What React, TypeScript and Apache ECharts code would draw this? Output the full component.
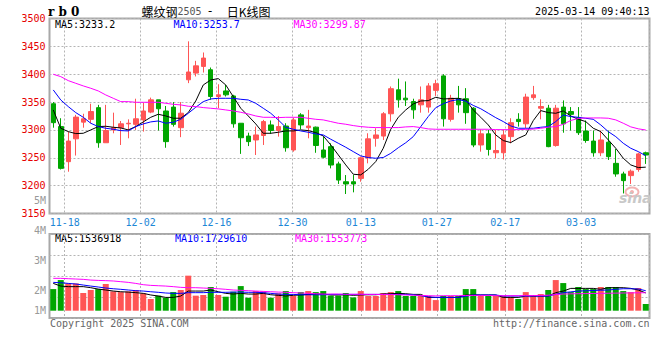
import React, { useEffect, useRef } from "react";
import * as echarts from "echarts";

// ---------- data ----------
const dates = [
  "11-14","11-15","11-18","11-19","11-20","11-21","11-22","11-25","11-26","11-27","11-28","11-29",
  "12-02","12-03","12-04","12-05","12-06","12-09","12-10","12-11","12-12","12-13","12-16","12-17","12-18","12-19","12-20","12-23","12-24","12-25","12-26","12-27","12-30","12-31",
  "01-02","01-03","01-06","01-07","01-08","01-09","01-10","01-13","01-14","01-15","01-16","01-17","01-20","01-21","01-22","01-23","01-24","01-27",
  "02-05","02-06","02-07","02-10","02-11","02-12","02-13","02-14","02-17","02-18","02-19","02-20","02-21","02-24","02-25","02-26","02-27","02-28",
  "03-03","03-04","03-05","03-06","03-07","03-10","03-11","03-12","03-13","03-14",
];
const tickDates = ["11-18", "12-02", "12-16", "12-30", "01-13", "01-27", "02-17", "03-03"];

const opens = [3347,3306,3243,3284,3314,3319,3340,3277,3300,3304,3311,3310,3318,3332,3354,3334,3341,3304,3390,3402,3414,3408,3360,3370,3361,3312,3289,3282,3290,3309,3299,3307,3264,3327,3304,3305,3264,3270,3239,3207,3207,3213,3250,3285,3289,3329,3372,3357,3351,3345,3341,3371,3397,3319,3356,3356,3339,3273,3293,3259,3259,3288,3319,3311,3358,3339,3339,3272,3341,3333,3322,3298,3280,3259,3278,3240,3221,3218,3229,3259];
const closes = [3313,3231,3280,3323,3320,3333,3277,3299,3304,3311,3312,3320,3334,3354,3338,3279,3310,3330,3404,3415,3429,3360,3363,3363,3311,3286,3279,3291,3315,3299,3306,3268,3318,3309,3307,3272,3251,3237,3210,3203,3203,3250,3284,3291,3329,3374,3354,3354,3336,3354,3379,3383,3320,3357,3345,3331,3273,3293,3265,3263,3291,3313,3315,3359,3363,3342,3270,3339,3311,3328,3295,3281,3259,3282,3252,3221,3209,3226,3257,3255];
const lows = [3304,3229,3225,3254,3304,3312,3268,3277,3294,3273,3285,3300,3297,3330,3299,3268,3306,3287,3384,3396,3403,3354,3339,3360,3304,3257,3271,3255,3273,3293,3288,3261,3261,3301,3285,3259,3249,3231,3203,3185,3188,3207,3240,3270,3282,3315,3340,3343,3320,3331,3331,3361,3306,3315,3331,3311,3269,3261,3254,3249,3247,3276,3306,3303,3354,3319,3269,3270,3295,3299,3291,3277,3252,3253,3246,3216,3186,3203,3225,3239];
const highs = [3350,3321,3297,3327,3329,3347,3345,3345,3331,3316,3319,3356,3349,3358,3354,3343,3350,3350,3459,3424,3439,3412,3382,3381,3363,3312,3295,3306,3318,3317,3325,3312,3322,3330,3336,3306,3288,3276,3243,3219,3219,3252,3294,3303,3332,3378,3392,3387,3356,3378,3384,3390,3400,3363,3379,3375,3341,3301,3300,3300,3301,3321,3330,3365,3379,3355,3345,3345,3353,3341,3341,3317,3299,3299,3299,3266,3225,3229,3259,3261];

const ma5 = [3335.9,3303,3297,3293.4,3294,3300,3306,3306.6,3304.8,3303.6,3300,3306,3314.4,3322.7,3328.1,3325.1,3321,3321,3331.1,3352,
  3380.7,3389.7,3392.1,3380.7,3359.8,3338.9,3325.1,3310.8,3294,3294,3295.8,3298.2,3298.2,3300,3298.8,3295.2,3289.2,3273.1,3255.2,3237.2,
  3220.5,3219.3,3229.4,3243.2,3267.1,3301.2,3322.7,3335.9,3346.6,3352,3352.6,3358.6,3355.6,3356.2,3356.8,3353.8,3335.9,3322.7,3309,3291,
  3280.9,3277.3,3285,3291,3316.7,3334.7,3331.1,3329.9,3334.1,3325.1,3319.1,3315,3303,3297,3282.1,3267.1,3249.2,3237.2,3232.4,3233.2];
const ma10 = [3371.8,3353.8,3341.9,3331.1,3322.7,3312,3306,3303,3301.2,3298.8,3298.2,3306,3310.8,3314.4,3316.1,3312,3313.8,3319.1,3329.9,3340.7,
  3350.8,3355.6,3356.8,3356.8,3356.8,3355,3353.8,3347.8,3338.9,3329.9,3318,3304.8,3301.2,3298.2,3295.8,3292.8,3291,3283.3,3276.1,3268.9,
  3261.1,3253.4,3250.4,3249.2,3250.5,3258,3268,3277,3288,3306,3324,3340,3347,3352,3354.5,3351.5,3344,3338,3330,3322,
  3315,3307.2,3303,3303,3303,3304.8,3306,3315,3326.9,3323.9,3322.7,3320.9,3319.1,3309,3297,3288,3276.1,3267.1,3261.1,3253.7];
const ma30 = [3399.9,3395.7,3388.5,3383.7,3379,3374.8,3370,3362.8,3356.8,3350.8,3350.8,3349.6,3349.6,3349.6,3349.6,3347.8,3346,3344.9,3342.5,3341.9,
  3340.1,3338.9,3337.7,3335.9,3334.1,3331.7,3328.7,3325.1,3322.7,3322.7,3322.1,3322.7,3322.7,3322.7,3320.9,3319.1,3318,3315,3312,3310.2,
  3307.8,3306,3304.8,3304.2,3304.2,3304.2,3304.2,3305.4,3306,3304.2,3301.8,3301.2,3301.2,3301.2,3301.2,3301.2,3301.2,3301.2,3301.2,3300.6,
  3300.5,3300.5,3300.5,3301,3301.5,3303,3305,3306,3310,3317,3320.5,3321.5,3321.5,3321.5,3321,3318,3312,3305.5,3302,3299.87];

const volumes = [1870000,2650000,2360000,2360000,1530000,1790000,1870000,2310000,1670000,1610000,
  1670000,1790000,1500000,1010000,1300000,1120000,1610000,1790000,3030000,1300000,
  1360000,2050000,1360000,1210000,1640000,2130000,1120000,1700000,1670000,1120000,
  1500000,1700000,1270000,1610000,1700000,1610000,1700000,1300000,1300000,1530000,
  1150000,1700000,1270000,1270000,1530000,1610000,1700000,1270000,1270000,1270000,
  1270000,920000,1270000,1270000,1270000,1870000,1870000,1330000,1270000,1270000,
  1270000,1210000,1010000,1610000,1270000,1440000,1790000,2650000,2390000,1610000,
  2050000,1870000,1870000,2050000,2050000,2050000,1700000,1610000,1960000,580000];
const volMa5 = [2360000,2130000,2080000,2080000,2080000,1990000,1870000,1790000,1700000,1640000,
  1610000,1560000,1500000,1360000,1270000,1150000,1150000,1270000,1700000,1700000,
  1700000,1790000,1640000,1500000,1440000,1500000,1440000,1440000,1500000,1380000,
  1330000,1270000,1330000,1360000,1410000,1440000,1440000,1360000,1360000,1380000,
  1330000,1360000,1380000,1380000,1440000,1470000,1500000,1470000,1410000,1410000,
  1150000,1150000,1150000,1150000,1150000,1360000,1360000,1360000,1360000,1360000,
  1150000,1150000,1150000,1270000,1270000,1270000,1270000,1560000,1700000,1930000,
  1930000,1930000,1930000,1850000,1990000,1990000,1990000,1930000,1790000,1536918];
const volMa10 = [2450000,2420000,2360000,2310000,2220000,2130000,2050000,1960000,1900000,1850000,
  1790000,1730000,1700000,1640000,1590000,1530000,1500000,1500000,1560000,1560000,
  1560000,1590000,1590000,1590000,1610000,1610000,1590000,1590000,1560000,1500000,
  1440000,1410000,1410000,1380000,1380000,1380000,1380000,1410000,1410000,1410000,
  1410000,1410000,1410000,1410000,1410000,1410000,1410000,1410000,1380000,1300000,
  1200000,1150000,1150000,1150000,1150000,1250000,1360000,1360000,1360000,1360000,
  1270000,1270000,1270000,1270000,1270000,1270000,1270000,1420000,1560000,1630000,
  1700000,1720000,1750000,1770000,1790000,1850000,1900000,1900000,1880000,1729610];
const volMa30 = [2800000,2800000,2770000,2740000,2710000,2650000,2620000,2600000,2570000,2510000,
  2450000,2360000,2250000,2190000,2160000,2130000,2080000,2020000,1990000,1990000,
  1960000,1930000,1900000,1850000,1790000,1760000,1730000,1700000,1670000,1640000,
  1610000,1590000,1560000,1530000,1500000,1470000,1440000,1440000,1440000,1420000,
  1420000,1420000,1410000,1410000,1400000,1400000,1380000,1360000,1340000,1320000,
  1300000,1280000,1300000,1300000,1300000,1320000,1320000,1320000,1320000,1300000,
  1300000,1300000,1300000,1300000,1310000,1320000,1340000,1400000,1440000,1460000,
  1470000,1480000,1490000,1500000,1510000,1520000,1530000,1540000,1550000,1553773];

const mainLegend = ["MA5:3233.2", "MA10:3253.7", "MA30:3299.87"];
const volLegend = ["MA5:1536918", "MA10:1729610", "MA30:1553773"];
const volAxisLabels = ["4M", "3M", "2M", "1M"];
const priceMin = 3150;
const priceMax = 3500;
const priceStep = 50;

// ---------- styles ----------
const MONO = "'DejaVu Sans Mono', monospace";
const UP = "#ff5555";
const DOWN = "#00a600";
const MA_COLORS = ["#000000", "#0000ff", "#ff00ff"];
const GRID_LINE = { color: "#b4b4b4", type: [2, 2] as any, width: 1 };
const FRAME = "#a8a8a8";

export default function App() {
  const ref = useRef<HTMLDivElement>(null);
  useEffect(() => {
    if (!ref.current) return;
    const chart = echarts.init(ref.current, null, { renderer: "svg" });
    const isTick = (_i: number, v: string) => tickDates.includes(v);
    const gridDates = dates.slice(0, dates.length - 1);

    const lineSeries = (data: number[], color: string, xi: number, yi: number) => ({
      type: "line",
      data,
      xAxisIndex: xi,
      yAxisIndex: yi,
      symbol: "none",
      showSymbol: false,
      silent: true,
      lineStyle: { color, width: 1 },
      z: 5,
    });

    const text = (x: number, y: number, t: string, fill: string, align = "left", font = `10px ${MONO}`) => ({
      type: "text",
      x,
      y,
      style: { text: t, fill, font, align, verticalAlign: "middle" },
    });

    const volLabelY = [230.7, 260.7, 290.7, 310.7];

    const option: any = {
      animation: false,
      backgroundColor: "#ffffff",
      textStyle: { fontFamily: MONO },
      grid: [
        { left: 49.5, top: 18.5, width: 600, height: 195, show: true, borderColor: FRAME, borderWidth: 2 },
        { left: 49.5, top: 234, width: 600, height: 84, show: true, borderColor: FRAME, borderWidth: 2 },
      ],
      xAxis: [
        {
          type: "category", gridIndex: 0, data: gridDates, boundaryGap: true, position: "bottom",
          axisLine: { show: false, onZero: false }, axisTick: { show: false },
          axisLabel: { show: true, interval: isTick, color: "#1d87d6", fontFamily: MONO, fontSize: 10, margin: 4, padding: [0, 7.6, 0, 0] },
          splitLine: { show: true, interval: isTick, lineStyle: GRID_LINE },
        },
        {
          type: "category", gridIndex: 0, data: dates, boundaryGap: true, position: "bottom",
          axisLine: { show: false, onZero: false }, axisTick: { show: false }, axisLabel: { show: false }, splitLine: { show: false },
        },
        {
          type: "category", gridIndex: 1, data: gridDates, boundaryGap: true, position: "bottom",
          axisLine: { show: false, onZero: false }, axisTick: { show: false }, axisLabel: { show: false },
          splitLine: { show: true, interval: isTick, lineStyle: GRID_LINE },
        },
        {
          type: "category", gridIndex: 1, data: dates, boundaryGap: true, position: "bottom",
          axisLine: { show: false, onZero: false }, axisTick: { show: false }, axisLabel: { show: false }, splitLine: { show: false },
        },
      ],
      yAxis: [
        {
          type: "value", gridIndex: 0, min: priceMin, max: priceMax, interval: priceStep, position: "left",
          axisLine: { show: false }, axisTick: { show: false },
          axisLabel: { color: "#e60000", fontFamily: MONO, fontSize: 10, margin: 4, padding: [0, 0, 5, 0], formatter: (v: number) => String(v) },
          splitLine: { show: true, lineStyle: GRID_LINE },
        },
        {
          type: "value", gridIndex: 1, min: -631500, max: 6635000, position: "left",
          axisLine: { show: false }, axisTick: { show: false }, axisLabel: { show: false }, splitLine: { show: false },
        },
        {
          type: "value", gridIndex: 1, min: 0, max: 4, interval: 1, position: "left",
          axisLine: { show: false }, axisTick: { show: false }, axisLabel: { show: false },
          splitLine: { show: true, lineStyle: GRID_LINE },
        },
      ],
      series: [
        {
          type: "candlestick",
          xAxisIndex: 1,
          yAxisIndex: 0,
          barWidth: 5,
          data: dates.map((_, i) => [opens[i], closes[i], lows[i], highs[i]]),
          itemStyle: { color: UP, color0: DOWN, borderColor: UP, borderColor0: DOWN, borderWidth: 1 },
          z: 3,
        },
        lineSeries(ma5, MA_COLORS[0], 1, 0),
        lineSeries(ma10, MA_COLORS[1], 1, 0),
        lineSeries(ma30, MA_COLORS[2], 1, 0),
        {
          type: "bar",
          xAxisIndex: 3,
          yAxisIndex: 1,
          barWidth: 6,
          data: volumes.map((v, i) => ({ value: v, itemStyle: { color: closes[i] >= opens[i] ? UP : DOWN } })),
          z: 3,
        },
        lineSeries(volMa5, MA_COLORS[0], 3, 1),
        lineSeries(volMa10, MA_COLORS[1], 3, 1),
        lineSeries(volMa30, MA_COLORS[2], 3, 1),
      ],
      graphic: [
        // sina watermark
        { type: "ellipse", shape: { cx: 632, cy: 192, rx: 6.5, ry: 4.5 }, style: { fill: "none", stroke: "#f3b3b3", lineWidth: 2 }, z: 1 },
        { type: "circle", shape: { cx: 632, cy: 192, r: 2 }, style: { fill: "#f3b3b3" }, z: 1 },
        { type: "text", x: 619, y: 205, z: 1, style: { text: "sina", fill: "#c8c8c8", font: "italic bold 14px 'DejaVu Sans'", align: "left", verticalAlign: "bottom" } },
        // header
        { type: "text", x: 48, y: 11.5, style: { text: "r b 0", fill: "#000", font: "bold 12px 'DejaVu Serif'", align: "left", verticalAlign: "middle" } },
        {
          type: "text", x: 141.5, y: 11,
          style: {
            text: "{c|螺纹钢}{n|2505}{d|-}{c|日K线图}",
            verticalAlign: "middle",
            align: "left",
            rich: {
              c: { fontFamily: "'Noto Sans CJK SC'", fontSize: 12, fill: "#000", color: "#000" },
              n: { fontFamily: MONO, fontSize: 10, fill: "#555", color: "#555" },
              d: { fontFamily: MONO, fontSize: 12, fill: "#000", color: "#000", padding: [0, 13, 0, 5] },
            },
          },
        },
        text(649.5, 11.5, "2025-03-14 09:40:13", "#000", "right"),
        text(55, 24, mainLegend[0], MA_COLORS[0]),
        text(173.5, 24, mainLegend[1], MA_COLORS[1]),
        text(293.5, 24, mainLegend[2], MA_COLORS[2]),
        text(46, 200, "5M", "#999", "right"),
        // volume panel
        text(55, 238.5, volLegend[0], MA_COLORS[0]),
        text(175, 238.5, volLegend[1], MA_COLORS[1]),
        text(295, 238.5, volLegend[2], MA_COLORS[2]),
        ...volAxisLabels.map((t, i) => text(46, volLabelY[i], t, "#999", "right")),
        // footer
        text(50, 323.5, "Copyright 2025 SINA.COM", "#666"),
        text(649.5, 323.5, "http://finance.sina.com.cn", "#666", "right"),
      ],
    };
    chart.setOption(option);
    return () => chart.dispose();
  }, []);
  return (
    <div
      ref={ref}
      style={{ position: "absolute", left: 0, top: 0, width: 660, height: 360, background: "#fff" }}
    />
  );
}
